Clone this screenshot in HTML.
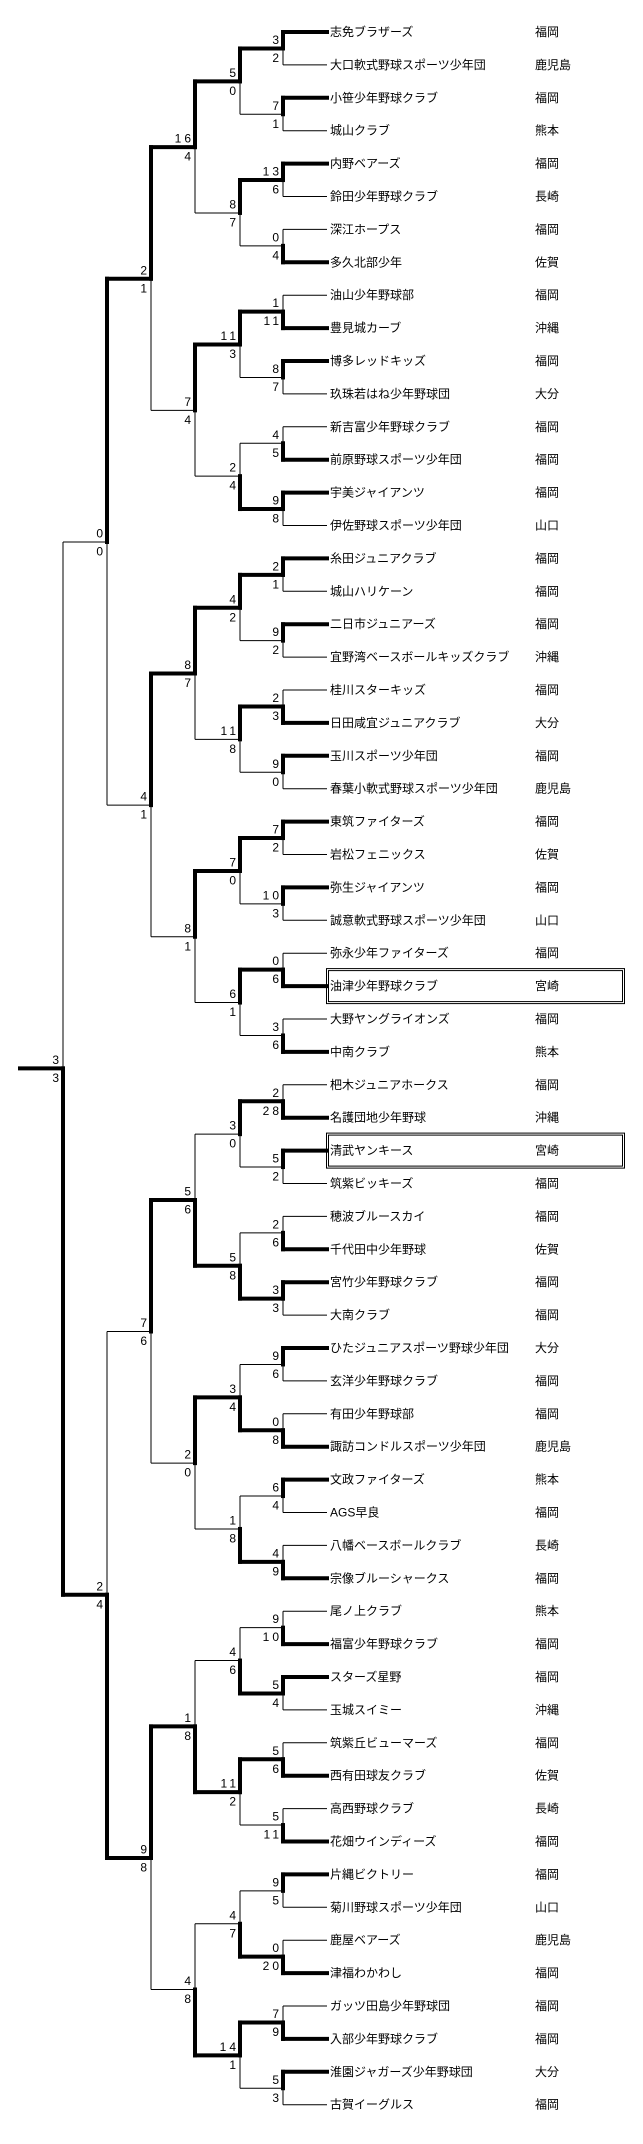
<!DOCTYPE html>
<html><head><meta charset="utf-8">
<style>
html,body{margin:0;padding:0;background:#fff;}
svg{display:block;}
text{font-family:"Liberation Sans","Noto Sans CJK JP",sans-serif;fill:#000;}
.t{font-size:12px;}
.s{font-size:12px;letter-spacing:3px;}
</style></head>
<body>
<svg id="b" xmlns="http://www.w3.org/2000/svg" width="643" height="2144" viewBox="0 0 643 2144"></svg>
<script>
var T=[["志免ブラザーズ","福岡"],["大口軟式野球スポーツ少年団","鹿児島"],["小笹少年野球クラブ","福岡"],["城山クラブ","熊本"],
["内野ベアーズ","福岡"],["鈴田少年野球クラブ","長崎"],["深江ホープス","福岡"],["多久北部少年","佐賀"],
["油山少年野球部","福岡"],["豊見城カーブ","沖縄"],["博多レッドキッズ","福岡"],["玖珠若はね少年野球団","大分"],
["新吉富少年野球クラブ","福岡"],["前原野球スポーツ少年団","福岡"],["宇美ジャイアンツ","福岡"],["伊佐野球スポーツ少年団","山口"],
["糸田ジュニアクラブ","福岡"],["城山ハリケーン","福岡"],["二日市ジュニアーズ","福岡"],["宜野湾ベースボールキッズクラブ","沖縄"],
["桂川スターキッズ","福岡"],["日田咸宜ジュニアクラブ","大分"],["玉川スポーツ少年団","福岡"],["春葉小軟式野球スポーツ少年団","鹿児島"],
["東筑ファイターズ","福岡"],["岩松フェニックス","佐賀"],["弥生ジャイアンツ","福岡"],["誠意軟式野球スポーツ少年団","山口"],
["弥永少年ファイターズ","福岡"],["油津少年野球クラブ","宮崎"],["大野ヤングライオンズ","福岡"],["中南クラブ","熊本"],
["杷木ジュニアホークス","福岡"],["名護団地少年野球","沖縄"],["清武ヤンキース","宮崎"],["筑紫ビッキーズ","福岡"],
["穂波ブルースカイ","福岡"],["千代田中少年野球","佐賀"],["宮竹少年野球クラブ","福岡"],["大南クラブ","福岡"],
["ひたジュニアスポーツ野球少年団","大分"],["玄洋少年野球クラブ","福岡"],["有田少年野球部","福岡"],["諏訪コンドルスポーツ少年団","鹿児島"],
["文政ファイターズ","熊本"],["AGS早良","福岡"],["八幡ベースボールクラブ","長崎"],["宗像ブルーシャークス","福岡"],
["尾ノ上クラブ","熊本"],["福富少年野球クラブ","福岡"],["スターズ星野","福岡"],["玉城スイミー","沖縄"],
["筑紫丘ビューマーズ","福岡"],["西有田球友クラブ","佐賀"],["高西野球クラブ","長崎"],["花畑ウインディーズ","福岡"],
["片縄ビクトリー","福岡"],["菊川野球スポーツ少年団","山口"],["鹿屋ベアーズ","鹿児島"],["津福わかわし","福岡"],
["ガッツ田島少年野球団","福岡"],["入部少年野球クラブ","福岡"],["淮園ジャガーズ少年野球団","大分"],["古賀イーグルス","福岡"]];
var R=[null,
[[3,2],[7,1],[13,6],[0,4],[1,11],[8,7],[4,5],[9,8],[2,1],[9,2],[2,3],[9,0],[7,2],[10,3],[0,6],[3,6],
 [2,28],[5,2],[2,6],[3,3,0],[9,6],[0,8],[6,4],[4,9],[9,10],[5,4],[5,6],[5,11],[9,5],[0,20],[7,9],[5,3]],
[[5,0],[8,7],[11,3],[2,4],[4,2],[11,8],[7,0],[6,1],[3,0],[5,8],[3,4],[1,8],[4,6],[11,2],[4,7],[14,1]],
[[16,4],[7,4],[8,7],[8,1],[5,6],[2,0],[1,8],[4,8]],
[[2,1],[4,1],[7,6],[9,8]],
[[0,0,0],[2,4]],
[[3,3,1]]];
var X=[327,283,240,195,151,107,63];
var thin=[],thick=[],txt=[];
function ln(x1,y1,x2,y2,w){(w?thick:thin).push('<line x1="'+x1+'" y1="'+y1+'" x2="'+x2+'" y2="'+y2+'"/>');}
function tx(x,y,s,c,a){txt.push('<text class="'+c+'" x="'+x+'" y="'+y+'" dominant-baseline="central"'+(a?' text-anchor="end"':'')+'>'+s+'</text>');}
function build(k,i){
 if(k==0){return 32+32.9*i;}
 var yt=build(k-1,2*i),yb=build(k-1,2*i+1),y=(yt+yb)/2;
 var m=R[k][i],w=m.length>2?m[2]:(m[0]>m[1]?0:1);
 ln(X[k],y,X[k],yt,w==0);ln(X[k],y,X[k],yb,w==1);
 ln(X[k],yt,X[k-1],yt,w==0);ln(X[k],yb,X[k-1],yb,w==1);
 tx(X[k]-1,y-8.5,m[0],"s",1);tx(X[k]-1,y+9.5,m[1],"s",1);
 return y;
}
var ry=build(6,0);
ln(20,ry,63,ry,1);
for(var i=0;i<64;i++){var y=32+32.9*i;tx(330,y,T[i][0],"t");tx(535,y,T[i][1],"t");}
var box='';
[29,34].forEach(function(i){var y=32+32.9*i;
 box+='<rect x="326.5" y="'+(y-17.5)+'" width="298" height="35" fill="none" stroke="#000" stroke-width="1"/>';
 box+='<rect x="328.5" y="'+(y-15.5)+'" width="294" height="31" fill="none" stroke="#000" stroke-width="1"/>';});
document.getElementById("b").innerHTML='<rect width="643" height="2144" fill="#fff"/>'+
 '<g stroke="#000" stroke-width="1">'+thin.join("")+'</g>'+
 '<g stroke="#000" stroke-width="4" stroke-linecap="square">'+thick.join("")+'</g>'+box+txt.join("");
</script>
</body></html>
